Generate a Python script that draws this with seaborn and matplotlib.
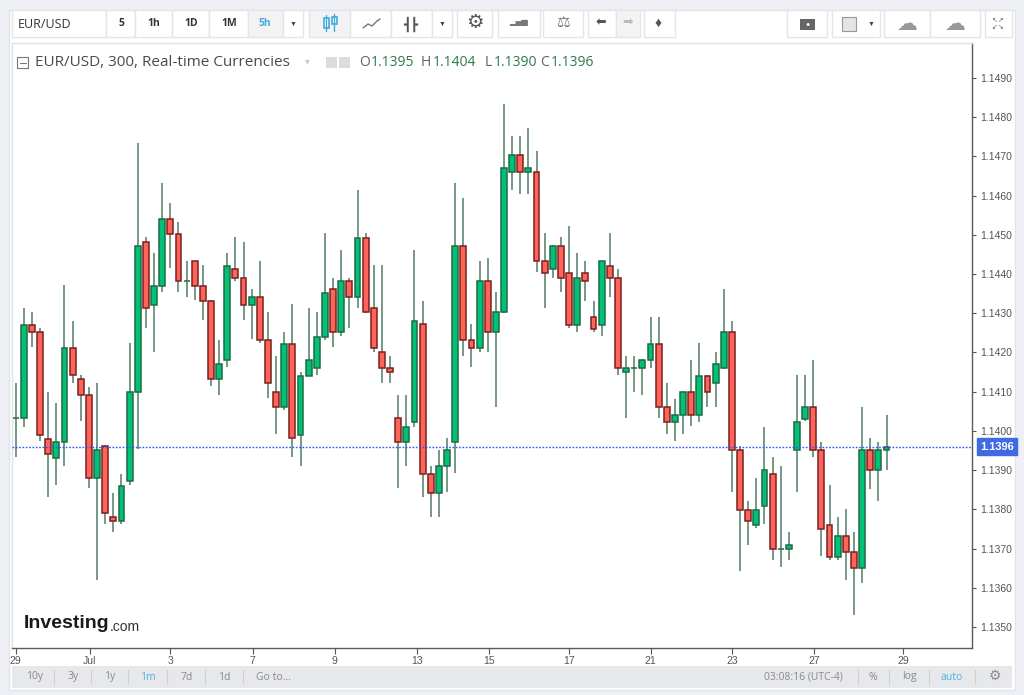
import matplotlib
matplotlib.use("Agg")
import matplotlib.pyplot as plt
from matplotlib.patches import Rectangle
from matplotlib.lines import Line2D
import seaborn as sns
import numpy as np

# 5h candles EUR/USD
opens = [1.14032, 1.14032, 1.14270, 1.14251, 1.13979, 1.13932, 1.13971, 1.14212, 1.14132, 1.14091,
         1.13880, 1.13961, 1.13780, 1.13770, 1.13871, 1.14099, 1.14481, 1.14321, 1.14370, 1.14541,
         1.14502, 1.14381, 1.14432, 1.14370, 1.14331, 1.14132, 1.14181, 1.14412, 1.14391, 1.14321,
         1.14341, 1.14232, 1.14099, 1.14060, 1.14222, 1.13990, 1.14141, 1.14161, 1.14240, 1.14361,
         1.14251, 1.14381, 1.14341, 1.14493, 1.14313, 1.14200, 1.14161, 1.14032, 1.13971, 1.14022,
         1.14272, 1.13890, 1.13841, 1.13911, 1.13971, 1.14471, 1.14232, 1.14212, 1.14381, 1.14251,
         1.14302, 1.14661, 1.14703, 1.14661, 1.14661, 1.14432, 1.14412, 1.14471, 1.14402, 1.14270,
         1.14402, 1.14290, 1.14270, 1.14421, 1.14391, 1.14151, 1.14161, 1.14161, 1.14181, 1.14222,
         1.14061, 1.14022, 1.14041, 1.14099, 1.14041, 1.14141, 1.14121, 1.14161, 1.14251, 1.13951,
         1.13798, 1.13760, 1.13809, 1.13889, 1.13700, 1.13700, 1.13951, 1.14031, 1.14061, 1.13951,
         1.13760, 1.13679, 1.13731, 1.13690, 1.13651, 1.13951, 1.13900, 1.13950]
highs = [1.14121, 1.14313, 1.14302, 1.14262, 1.14100, 1.14070, 1.14372, 1.14281, 1.14142, 1.14113,
         1.14121, 1.13965, 1.13841, 1.13890, 1.14223, 1.14733, 1.14494, 1.14453, 1.14633, 1.14580,
         1.14532, 1.14432, 1.14434, 1.14423, 1.14333, 1.14232, 1.14453, 1.14494, 1.14481, 1.14362,
         1.14432, 1.14302, 1.14191, 1.14251, 1.14323, 1.14151, 1.14313, 1.14302, 1.14504, 1.14391,
         1.14461, 1.14391, 1.14614, 1.14504, 1.14423, 1.14423, 1.14191, 1.14092, 1.14092, 1.14461,
         1.14332, 1.13911, 1.13951, 1.13981, 1.14633, 1.14593, 1.14272, 1.14432, 1.14442, 1.14353,
         1.14833, 1.14752, 1.14752, 1.14772, 1.14714, 1.14504, 1.14473, 1.14494, 1.14523, 1.14453,
         1.14433, 1.14332, 1.14434, 1.14504, 1.14412, 1.14191, 1.14191, 1.14183, 1.14291, 1.14291,
         1.14122, 1.14081, 1.14101, 1.14182, 1.14223, 1.14143, 1.14201, 1.14361, 1.14281, 1.13961,
         1.13820, 1.13881, 1.14010, 1.13933, 1.13911, 1.13741, 1.14143, 1.14143, 1.14182, 1.13971,
         1.13862, 1.13781, 1.13800, 1.13741, 1.14061, 1.13981, 1.13971, 1.14040]
lows = [1.13934, 1.14011, 1.14215, 1.13973, 1.13832, 1.13862, 1.13911, 1.14123, 1.14024, 1.13854,
        1.13620, 1.13763, 1.13743, 1.13763, 1.13862, 1.13953, 1.14262, 1.14202, 1.14353, 1.14415,
        1.14353, 1.14342, 1.14334, 1.14283, 1.14115, 1.14092, 1.14162, 1.14381, 1.14283, 1.14234,
        1.14223, 1.14083, 1.13992, 1.14053, 1.13934, 1.13911, 1.14139, 1.14143, 1.14232, 1.14213,
        1.14243, 1.14263, 1.14313, 1.14300, 1.14202, 1.14123, 1.14123, 1.13854, 1.13911, 1.14011,
        1.13832, 1.13781, 1.13781, 1.13843, 1.13892, 1.14192, 1.14162, 1.14202, 1.14202, 1.14062,
        1.14300, 1.14614, 1.14604, 1.14604, 1.14404, 1.14313, 1.14391, 1.14353, 1.14262, 1.14253,
        1.14332, 1.14253, 1.14243, 1.14342, 1.14143, 1.14032, 1.14100, 1.14092, 1.14161, 1.14032,
        1.13992, 1.13973, 1.13992, 1.14012, 1.14022, 1.14062, 1.14062, 1.14159, 1.13843, 1.13643,
        1.13710, 1.13752, 1.13762, 1.13671, 1.13652, 1.13671, 1.13843, 1.14024, 1.13933, 1.13681,
        1.13671, 1.13671, 1.13619, 1.13531, 1.13611, 1.13852, 1.13820, 1.13900]
closes = [1.14033, 1.14270, 1.14251, 1.13990, 1.13941, 1.13971, 1.14212, 1.14142, 1.14091, 1.13880,
          1.13951, 1.13790, 1.13770, 1.13860, 1.14099, 1.14471, 1.14313, 1.14370, 1.14541, 1.14502,
          1.14381, 1.14381, 1.14370, 1.14331, 1.14132, 1.14171, 1.14421, 1.14391, 1.14321, 1.14341,
          1.14232, 1.14121, 1.14060, 1.14222, 1.13981, 1.14141, 1.14181, 1.14240, 1.14351, 1.14251,
          1.14381, 1.14341, 1.14493, 1.14302, 1.14212, 1.14161, 1.14151, 1.13971, 1.14009, 1.14281,
          1.13890, 1.13841, 1.13911, 1.13951, 1.14471, 1.14232, 1.14212, 1.14381, 1.14251, 1.14302,
          1.14671, 1.14703, 1.14661, 1.14671, 1.14432, 1.14402, 1.14471, 1.14391, 1.14270, 1.14391,
          1.14381, 1.14260, 1.14432, 1.14391, 1.14161, 1.14161, 1.14161, 1.14181, 1.14222, 1.14060,
          1.14022, 1.14041, 1.14099, 1.14041, 1.14141, 1.14099, 1.14170, 1.14251, 1.13951, 1.13798,
          1.13770, 1.13798, 1.13900, 1.13700, 1.13700, 1.13709, 1.14022, 1.14061, 1.13951, 1.13751,
          1.13679, 1.13731, 1.13690, 1.13651, 1.13951, 1.13900, 1.13951, 1.13960]

tick_pos = [0, 9.1, 19, 29.1, 39.2, 49.3, 58.1, 68, 78, 88, 98.1, 109]
tick_labels = ["29", "Jul", "3", "7", "9", "13", "15", "17", "21", "23", "27", "29"]
price_ticks = [1.1350, 1.1360, 1.1370, 1.1380, 1.1390, 1.1400, 1.1410, 1.1420,
               1.1430, 1.1440, 1.1450, 1.1460, 1.1470, 1.1480, 1.1490]
last_price = 1.1396

W, H = 1024, 695
def fx(px):
    return px / W
def fy(py):
    return 1 - py / H

sns.set_theme(style="white")
plt.rcParams['font.family'] = ['Liberation Sans', 'DejaVu Sans']

fig = plt.figure(figsize=(W / 100, H / 100), dpi=100, facecolor="#eef0f5")

# widget background
fig.add_artist(Rectangle((fx(9), fy(690)), fx(1006), 680 / H, transform=fig.transFigure,
                         facecolor="white", edgecolor="#e0e3ea", lw=1, zorder=0))
# bottom bar
fig.add_artist(Rectangle((fx(12), fy(688)), fx(1000), 22 / H, transform=fig.transFigure,
                         facecolor="#e7e8ec", edgecolor="none", zorder=0))

ax = fig.add_axes([fx(12), fy(647.7), fx(972) - fx(12), (647.7 - 42.7) / H])

x = np.arange(len(opens))
o = np.array(opens)
c = np.array(closes)
up = c >= o
green, red = "#00c176", "#ff6459"
body_col = np.where(up, green, red)
edge_col = np.where(up, "#1f6b45", "#7a2020")

ax.vlines(x, lows, highs, color="#4f7d66", lw=1.1, zorder=2)
ax.bar(x, np.abs(c - o), bottom=np.minimum(o, c), width=0.72, color=body_col,
       edgecolor=edge_col, linewidth=1.1, zorder=3)

ax.axhline(last_price, color="#2f55ff", lw=1.0, ls=(0, (1.2, 1.2)), zorder=4)

ax.set_xlim(-0.45, 117.5)
ax.set_ylim(1.13447, 1.14990)
ax.set_xticks(tick_pos, tick_labels)
ax.set_yticks(price_ticks, [f"{p:.4f}" for p in price_ticks])
ax.yaxis.tick_right()
ax.tick_params(axis="x", direction="out", length=4, width=0.8, color="#555555",
               labelsize=7.5, labelcolor="#555555", pad=2, bottom=True)
ax.tick_params(axis="y", direction="out", length=3, width=0.8, color="#555555",
               labelsize=7.5, labelcolor="#555555", pad=3, right=True, left=False)
for s in ["top", "left"]:
    ax.spines[s].set_color("#dfe2e8")
    ax.spines[s].set_linewidth(1)
for s in ["right", "bottom"]:
    ax.spines[s].set_color("#5a5a5a")
    ax.spines[s].set_linewidth(1)
ax.set_facecolor("white")

ax.annotate(f"{last_price:.4f}", xy=(1.0, last_price), xycoords=("axes fraction", "data"),
            xytext=(6, 0), textcoords="offset points", ha="left", va="center",
            color="white", fontsize=8, fontweight="bold",
            bbox=dict(boxstyle="square,pad=0.3", fc="#4169e1", ec="#4169e1"),
            annotation_clip=False, zorder=6)

# legend line
ui = ['Open Sans', 'DejaVu Sans']
fig.add_artist(Rectangle((fx(17), fy(68)), 11 / W, 11 / H, transform=fig.transFigure,
                         facecolor="white", edgecolor="#777777", lw=0.8))
fig.add_artist(Line2D([fx(19.5), fx(25.5)], [fy(62.5), fy(62.5)], transform=fig.transFigure,
                      color="#777777", lw=0.8))
fig.text(fx(35), fy(62), "EUR/USD, 300, Real-time Currencies", fontsize=11, color="#4a4a4a",
         family=ui, va="center", ha="left")
fig.text(fx(307), fy(61), "▾", fontsize=7, color="#c8c8c8", va="center", ha="center")
for px in (326, 339):
    fig.add_artist(Rectangle((fx(px), fy(68)), 11 / W, 11 / H, transform=fig.transFigure,
                             facecolor="#dcdcdc", edgecolor="none"))
for lab, val, px, off in [("O", "1.1395", 359, 12), ("H", "1.1404", 421, 12),
                          ("L", "1.1390", 485, 9), ("C", "1.1396", 540, 11)]:
    fig.text(fx(px), fy(62), lab, fontsize=10, color="#606060", family=ui, va="center", ha="left")
    fig.text(fx(px + off), fy(62), val, fontsize=10, color="#2c7a4c", family=ui, va="center", ha="left")

# toolbar buttons
buttons = [(12, 106), (106, 135), (135, 172), (172, 209), (209, 248), (248, 283), (283, 303),
           (309, 350), (350, 391), (391, 432), (432, 452), (457, 492), (498, 540), (543, 583),
           (588, 616), (616, 640), (644, 675), (787, 827), (832, 880), (884, 930), (930, 980),
           (985, 1012)]
for a, b in buttons:
    fc = "#f3f3f3" if a in (248, 309, 616) else "white"
    fig.add_artist(Rectangle((fx(a), fy(37)), (b - a) / W, 27 / H, transform=fig.transFigure,
                             facecolor=fc, edgecolor="#e3e5ea", lw=1))
fig.text(fx(18), fy(24), "EUR/USD", fontsize=9, color="#333333", family=ui, va="center", ha="left")
for lab, px, col in [("5", 121, "#333333"), ("1h", 154, "#333333"), ("1D", 191, "#333333"),
                     ("1M", 229, "#333333"), ("5h", 265, "#3fa9e0")]:
    fig.text(fx(px), fy(24), lab, fontsize=7.5, color=col, family=ui, va="center", ha="center",
             fontweight="bold")
for px in (293, 442, 871):
    fig.text(fx(px), fy(24), "▼", fontsize=5, color="#444444", va="center", ha="center")
# candle icon
for cx, y0, y1, b0, b1 in [(326, 15, 31, 18, 28), (334, 14, 31, 17, 24)]:
    fig.add_artist(Line2D([fx(cx), fx(cx)], [fy(y1), fy(y0)], transform=fig.transFigure, color="#3fa9e0", lw=1))
    fig.add_artist(Rectangle((fx(cx - 2.5), fy(b1)), 5 / W, (b1 - b0) / H, transform=fig.transFigure,
                             facecolor="white", edgecolor="#3fa9e0", lw=1.2))
fig.add_artist(Line2D([fx(363), fx(368), fx(372), fx(377), fx(380)], [fy(28), fy(24), fy(26), fy(21), fy(19)],
                      transform=fig.transFigure, color="#777777", lw=1))
fig.text(fx(411), fy(24), "┫┣", fontsize=9, color="#555555", va="center", ha="center")
fig.text(fx(475), fy(23), "⚙", fontsize=14, color="#555555", va="center", ha="center")
fig.text(fx(519), fy(23), "▂▄▆", fontsize=6, color="#777777", va="center", ha="center")
fig.text(fx(563), fy(23), "⚖", fontsize=11, color="#777777", va="center", ha="center")
fig.text(fx(601), fy(23), "⬅", fontsize=9, color="#555555", va="center", ha="center")
fig.text(fx(628), fy(23), "➡", fontsize=9, color="#bbbbbb", va="center", ha="center")
fig.text(fx(658), fy(23), "♦", fontsize=10, color="#555555", va="center", ha="center")
fig.add_artist(Rectangle((fx(800), fy(30)), 15 / W, 11 / H, transform=fig.transFigure,
                         facecolor="#666666", edgecolor="none"))
fig.text(fx(807.5), fy(24.5), "●", fontsize=5, color="white", va="center", ha="center")
fig.add_artist(Rectangle((fx(842), fy(31)), 14 / W, 14 / H, transform=fig.transFigure,
                         facecolor="#e4e4e4", edgecolor="#999999", lw=0.8))
fig.text(fx(907), fy(24), "☁", fontsize=15, color="#999999", va="center", ha="center")
fig.text(fx(955), fy(24), "☁", fontsize=15, color="#999999", va="center", ha="center")
fig.text(fx(998), fy(24), "↖↗\n↙↘", fontsize=5, color="#666666", va="center", ha="center",
         linespacing=1.0)

# logo
fig.text(fx(24), fy(624), "Investing", fontsize=14, fontweight="bold", color="#1a1a1a",
         va="center", ha="left", family=['Liberation Sans', 'DejaVu Sans'])
fig.text(fx(110), fy(627), ".com", fontsize=10, color="#333333", va="center", ha="left")

# bottom bar
for lab, px, col in [("10y", 35, "#8a8a8a"), ("3y", 73, "#8a8a8a"), ("1y", 110, "#8a8a8a"),
                     ("1m", 148, "#4db3e6"), ("7d", 187, "#8a8a8a"), ("1d", 224, "#8a8a8a"),
                     ("Go to...", 273, "#8a8a8a"), ("03:08:16 (UTC-4)", 803, "#8a8a8a"),
                     ("%", 873, "#8a8a8a"), ("log", 909, "#8a8a8a"), ("auto", 952, "#4db3e6")]:
    fig.text(fx(px), fy(677), lab, fontsize=7.5, color=col, family=ui, va="center", ha="center")
for px in (54, 91, 128, 167, 205, 243, 858, 889, 929, 975):
    fig.add_artist(Line2D([fx(px), fx(px)], [fy(670), fy(684)], transform=fig.transFigure,
                          color="#cfcfd4", lw=0.8))
fig.text(fx(995), fy(676), "⚙", fontsize=10, color="#8a8a8a", va="center", ha="center")

fig.savefig("out.png", dpi=100, facecolor=fig.get_facecolor())
